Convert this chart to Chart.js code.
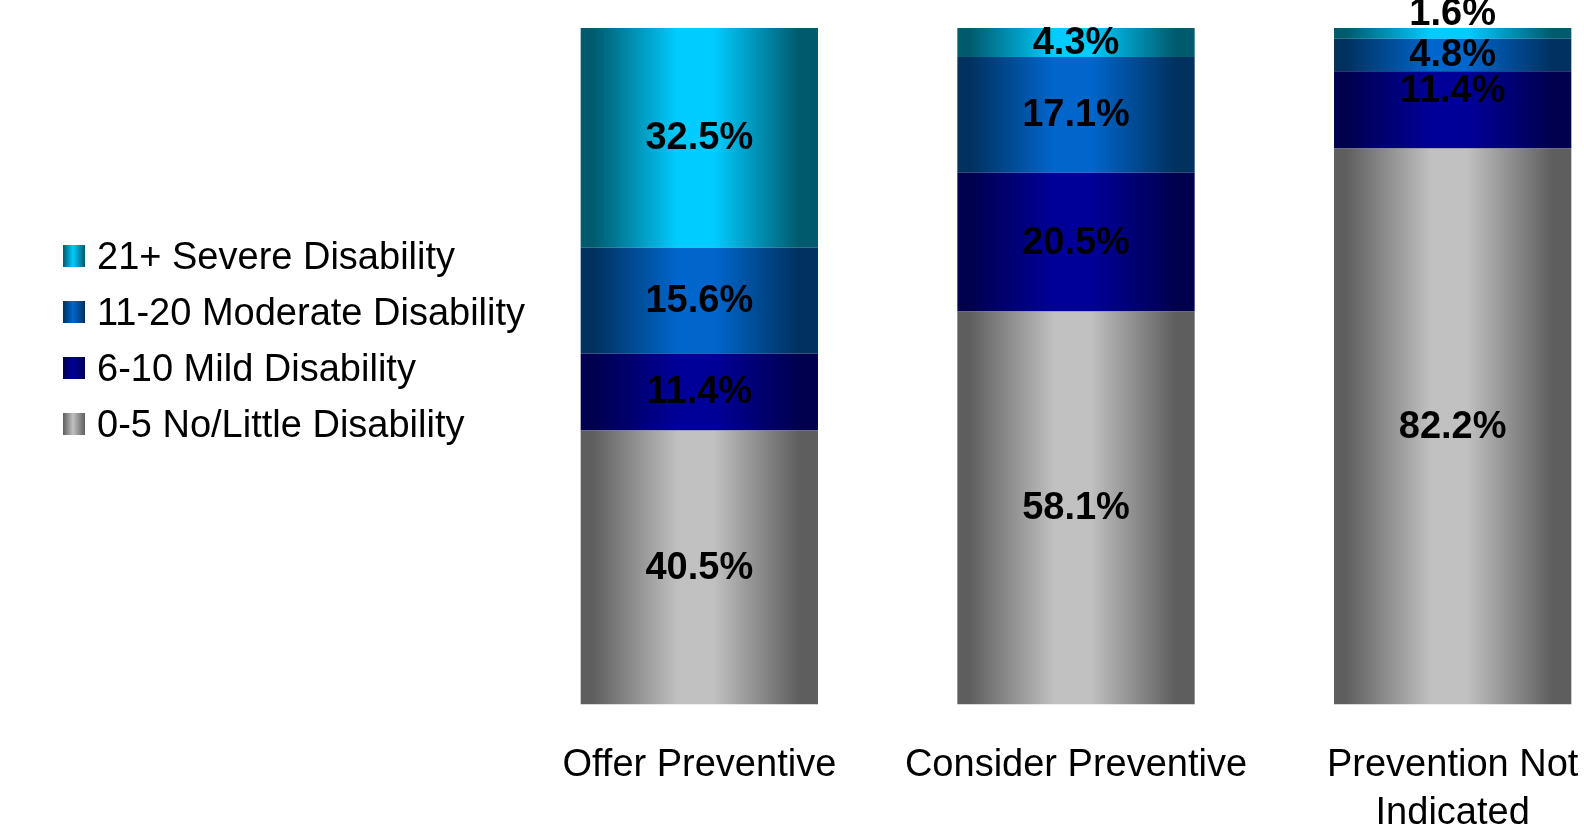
<!DOCTYPE html>
<html>
<head>
<meta charset="utf-8">
<script src="https://cdn.jsdelivr.net/npm/chart.js@4"></script>
<style>
  html, body { margin: 0; padding: 0; background: #fff; overflow: hidden; }
  #frame { position: relative; width: 1584px; height: 827px; overflow: hidden; }
  #wrap { position: absolute; left: 0; top: 0; width: 1660px; height: 900px; }
  #legend { position: absolute; left: 63px; top: 228px; font-family: "Liberation Sans", Arial, sans-serif; font-size: 38px; color: #000; }
  #legend .item { display: flex; align-items: center; height: 56px; }
  #legend .box { width: 22px; height: 22px; margin-right: 12px; }
</style>
</head>
<body>
<div id="frame">
  <div id="wrap"><canvas id="chartDisabilitas"></canvas></div>
  <div id="legend"></div>
</div>
<script>
// ================== DATA ================ //
const KATEGORI = [["Offer Preventive"], ["Consider Preventive"], ["Prevention Not", "Indicated"]];
const SERI_LABEL = ["0-5 No/Little Disability", "6-10 Mild Disability", "11-20 Moderate Disability", "21+ Severe Disability"];
const NILAI_RINGAN_NOL = [40.5, 58.1, 82.2];
const NILAI_RINGAN = [11.4, 20.5, 11.4];
const NILAI_SEDANG = [15.6, 17.1, 4.8];
const NILAI_BERAT = [32.5, 4.3, 1.6];

// warna gradasi: [tepi gelap, tengah terang]
const WARNA = [
  ["#5e5e5e", "#c1c1c1"],
  ["#00004e", "#000099"],
  ["#00315f", "#0066cc"],
  ["#005a6e", "#00ccff"],
];

const BAR_PERSEN = 0.63;

// geser label kecil supaya tidak bertumpuk (px)
const GESER_LABEL = { "3-2": -20, "2-2": -1, "1-2": -19 };

function buatGradien(ctx, x0, x1, warna) {
  const g = ctx.createLinearGradient(x0, 0, x1, 0);
  g.addColorStop(0, warna[0]);
  g.addColorStop(0.05, warna[0]);
  g.addColorStop(0.41, warna[1]);
  g.addColorStop(0.56, warna[1]);
  g.addColorStop(0.92, warna[0]);
  g.addColorStop(1, warna[0]);
  return g;
}

// gradasi horizontal per batang, dihitung dari skala x
function warnaBatang(c) {
  const warna = WARNA[c.datasetIndex];
  const chart = c.chart;
  const sx = chart.scales.x;
  if (!chart.chartArea || !sx || c.dataIndex === undefined) return warna[1];
  const lebar = (sx.width / chart.data.labels.length) * BAR_PERSEN;
  const tengah = sx.getPixelForValue(c.dataIndex);
  return buatGradien(chart.ctx, tengah - lebar / 2, tengah + lebar / 2, warna);
}

const pluginLabel = {
  id: "labelNilai",
  afterDatasetsDraw(chart) {
    const ctx = chart.ctx;
    ctx.save();
    ctx.font = "bold 38px 'Liberation Sans', Arial, sans-serif";
    ctx.fillStyle = "#000";
    ctx.textAlign = "center";
    ctx.textBaseline = "middle";
    chart.data.datasets.forEach((ds, i) => {
      chart.getDatasetMeta(i).data.forEach((el, j) => {
        const geser = GESER_LABEL[i + "-" + j] || 0;
        const y = (el.y + el.base) / 2 + 1 + geser;
        ctx.fillText(ds.data[j].toFixed(1) + "%", el.x, y);
      });
    });
    ctx.restore();
  },
};

const SEMUA_NILAI = [NILAI_RINGAN_NOL, NILAI_RINGAN, NILAI_SEDANG, NILAI_BERAT];

new Chart(document.getElementById("chartDisabilitas"), {
  type: "bar",
  data: {
    labels: KATEGORI,
    datasets: SEMUA_NILAI.map((nilai, i) => ({
      label: SERI_LABEL[i],
      data: nilai,
      backgroundColor: warnaBatang,
      borderWidth: 0,
      barPercentage: BAR_PERSEN,
      categoryPercentage: 1,
    })),
  },
  options: {
    responsive: true,
    maintainAspectRatio: false,
    animation: false,
    layout: { padding: { left: 511, right: 19, top: 28, bottom: 25 } },
    plugins: { legend: { display: false }, tooltip: { enabled: false } },
    scales: {
      x: {
        stacked: true,
        grid: { display: false, drawTicks: false },
        border: { display: false },
        ticks: {
          color: "#000",
          padding: 37,
          maxRotation: 0,
          autoSkip: false,
          font: { family: "'Liberation Sans', Arial, sans-serif", size: 38, lineHeight: 1.27 },
        },
      },
      y: { stacked: true, display: false, min: 0, max: 100 },
    },
  },
  plugins: [pluginLabel],
});

// legenda (urutan terbalik, kategori berat di atas)
const legend = document.getElementById("legend");
SERI_LABEL.slice().reverse().forEach((label, k) => {
  const w = WARNA[SERI_LABEL.length - 1 - k];
  legend.innerHTML += `<div class="item"><span class="box" style="background:linear-gradient(to right, ${w[0]} 0%, ${w[1]} 45%, ${w[0]} 100%)"></span>${label}</div>`;
});
</script>
</body>
</html>
